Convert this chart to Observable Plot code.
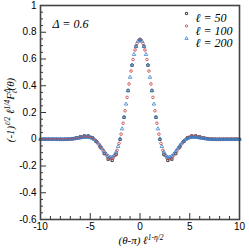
<!DOCTYPE html>
<html><head><meta charset="utf-8">
<script src="https://cdn.jsdelivr.net/npm/d3@7"></script>
<script src="https://cdn.jsdelivr.net/npm/@observablehq/plot@0.6"></script>
<style>body{margin:0;background:#fff}#chart svg{display:block}</style>
</head><body><div id="chart"></div>
<script>
// ---- data ----
const annotation = "Δ = 0.6";
const seriesNames = ["ℓ = 50", "ℓ = 100", "ℓ = 200"];
const xMajorTicks = [-10, -5, 0, 5, 10];
const xMinorTicks = [-9, -8, -7, -6, -4, -3, -2, -1, 1, 2, 3, 4, 6, 7, 8, 9];
const yMajorTicks = [-0.6, -0.4, -0.2, 0, 0.2, 0.4, 0.6, 0.8, 1];
const yMinorTicks = [-0.55, -0.5, -0.45, -0.35, -0.3, -0.25, -0.15, -0.1, -0.05, 0.05, 0.1, 0.15, 0.25, 0.3, 0.35, 0.45, 0.5, 0.55, 0.65, 0.7, 0.75, 0.85, 0.9, 0.95];

const x50 = [-10,-9.6,-9.2,-8.8,-8.4,-8,-7.6,-7.2,-6.8,-6.4,-6,-5.6,-5.2,-4.8,-4.4,-4,-3.6,-3.2,-2.8,-2.4,-2,-1.6,-1.2,-0.8,-0.4,0,0.4,0.8,1.2,1.6,2,2.4,2.8,3.2,3.6,4,4.4,4.8,5.2,5.6,6,6.4,6.8,7.2,7.6,8,8.4,8.8,9.2,9.6,10];
const y50 = [0,0,0,0,-0.001,-0.001,-0.001,0.001,0.004,0.010,0.018,0.025,0.025,0.012,-0.017,-0.058,-0.107,-0.149,-0.158,-0.113,-0.001,0.164,0.363,0.554,0.693,0.743,0.693,0.554,0.363,0.164,-0.001,-0.113,-0.158,-0.149,-0.107,-0.058,-0.017,0.012,0.025,0.025,0.018,0.010,0.004,0.001,-0.001,-0.001,-0.001,0,0,0,0];

const x100 = [-9.9,-9.7,-9.5,-9.3,-9.1,-8.9,-8.7,-8.5,-8.3,-8.1,-7.9,-7.7,-7.5,-7.3,-7.1,-6.9,-6.7,-6.5,-6.3,-6.1,-5.9,-5.7,-5.5,-5.3,-5.1,-4.9,-4.7,-4.5,-4.3,-4.1,-3.9,-3.7,-3.5,-3.3,-3.1,-2.9,-2.7,-2.5,-2.3,-2.1,-1.9,-1.7,-1.5,-1.3,-1.1,-0.9,-0.7,-0.5,-0.3,-0.1,0.1,0.3,0.5,0.7,0.9,1.1,1.3,1.5,1.7,1.9,2.1,2.3,2.5,2.7,2.9,3.1,3.3,3.5,3.7,3.9,4.1,4.3,4.5,4.7,4.9,5.1,5.3,5.5,5.7,5.9,6.1,6.3,6.5,6.7,6.9,7.1,7.3,7.5,7.7,7.9,8.1,8.3,8.5,8.7,8.9,9.1,9.3,9.5,9.7,9.9];
const y100 = [0,0,0,0,0,0,0,0,0,-0.001,-0.001,-0.001,0,0,0.001,0.002,0.004,0.006,0.009,0.012,0.015,0.018,0.020,0.020,0.018,0.014,0.005,-0.007,-0.022,-0.042,-0.064,-0.087,-0.109,-0.129,-0.142,-0.147,-0.140,-0.120,-0.083,-0.031,0.038,0.120,0.213,0.313,0.414,0.510,0.596,0.667,0.716,0.742,0.742,0.716,0.667,0.596,0.510,0.414,0.313,0.213,0.120,0.038,-0.031,-0.083,-0.120,-0.140,-0.147,-0.142,-0.129,-0.109,-0.087,-0.064,-0.042,-0.022,-0.007,0.005,0.014,0.018,0.020,0.020,0.018,0.015,0.012,0.009,0.006,0.004,0.002,0.001,0,0,-0.001,-0.001,-0.001,0,0,0,0,0,0,0,0,0];

const x200 = [-10,-9.8,-9.6,-9.4,-9.2,-9,-8.8,-8.6,-8.4,-8.2,-8,-7.8,-7.6,-7.4,-7.2,-7,-6.8,-6.6,-6.4,-6.2,-6,-5.8,-5.6,-5.4,-5.2,-5,-4.8,-4.6,-4.4,-4.2,-4,-3.8,-3.6,-3.4,-3.2,-3,-2.8,-2.6,-2.4,-2.2,-2,-1.8,-1.6,-1.4,-1.2,-1,-0.8,-0.6,-0.4,-0.2,0,0.2,0.4,0.6,0.8,1,1.2,1.4,1.6,1.8,2,2.2,2.4,2.6,2.8,3,3.2,3.4,3.6,3.8,4,4.2,4.4,4.6,4.8,5,5.2,5.4,5.6,5.8,6,6.2,6.4,6.6,6.8,7,7.2,7.4,7.6,7.8,8,8.2,8.4,8.6,8.8,9,9.2,9.4,9.6,9.8,10];
const y200 = [0,0,0,0,0,0,0,0,0,0,0,0,0,0,0,0.001,0.002,0.004,0.006,0.008,0.010,0.013,0.014,0.015,0.015,0.012,0.007,-0.001,-0.013,-0.029,-0.048,-0.069,-0.090,-0.110,-0.125,-0.134,-0.133,-0.121,-0.095,-0.054,0.003,0.078,0.166,0.263,0.364,0.463,0.555,0.634,0.695,0.733,0.746,0.733,0.695,0.634,0.555,0.463,0.364,0.263,0.166,0.078,0.003,-0.054,-0.095,-0.121,-0.133,-0.134,-0.125,-0.110,-0.090,-0.069,-0.048,-0.029,-0.013,-0.001,0.007,0.012,0.015,0.015,0.014,0.013,0.010,0.008,0.006,0.004,0.002,0.001,0,0,0,0,0,0,0,0,0,0,0,0,0,0,0];

// ---- build ----
const toRows = (xs, ys) => xs.map((x, i) => ({x, y: ys[i]}));
const d50 = toRows(x50, y50), d100 = toRows(x100, y100), d200 = toRows(x200, y200);
const colors = ["#1a1a1a", "#c83c3c", "#3a82c8"];
const symbols = ["square", "circle", "triangle"];
const fmt = d => String(Math.round(d * 10) / 10);
const serif = "'Liberation Serif','Times New Roman',serif";
const R = 1.3;

const legendMarks = seriesNames.flatMap((name, i) => [
  Plot.dot([0], {frameAnchor: "top-right", dx: -53, dy: 8 + i * 12.5, symbol: symbols[i], r: 1.2, stroke: colors[i], fill: "none", strokeWidth: 0.8}),
  Plot.text([name], {frameAnchor: "top-right", dx: -44, dy: 8 + i * 12.5, text: d => d, textAnchor: "start", fontFamily: serif, fontStyle: "italic", fontSize: 12, fill: "#000"})
]);

const plot = Plot.plot({
  width: 249, height: 249,
  marginLeft: 40, marginRight: 10, marginTop: 5, marginBottom: 30,
  style: {fontFamily: "'Liberation Sans',Arial,sans-serif", fontSize: "10px", color: "#000", background: "#fff"},
  x: {domain: [-10, 10], label: null},
  y: {domain: [-0.6, 1], label: null},
  marks: [
    Plot.axisX(xMinorTicks, {tickSize: -3, text: null, label: null, stroke: "#333"}),
    Plot.axisX(xMajorTicks, {tickSize: -6, text: null, label: null, stroke: "#333"}),
    Plot.axisX(xMajorTicks, {tickSize: 0, tickPadding: 3, tickFormat: fmt, label: null}),
    Plot.axisY(yMinorTicks, {tickSize: -3, text: null, label: null, stroke: "#333"}),
    Plot.axisY(yMajorTicks, {tickSize: -6, text: null, label: null, stroke: "#333"}),
    Plot.axisY(yMajorTicks, {tickSize: 0, tickPadding: 4, tickFormat: fmt, label: null}),
    Plot.dot(d50, {x: "x", y: "y", symbol: "square", r: R, stroke: colors[0], fill: "none", strokeWidth: 0.8}),
    Plot.dot(d100, {x: "x", y: "y", symbol: "circle", r: R, stroke: colors[1], fill: "none", strokeWidth: 0.8}),
    Plot.dot(d200, {x: "x", y: "y", symbol: "triangle", r: R, stroke: colors[2], fill: "none", strokeWidth: 0.8}),
    Plot.text([annotation], {frameAnchor: "top-left", dx: 12, dy: 14, text: d => d, textAnchor: "start", fontFamily: serif, fontStyle: "italic", fontSize: 12, fill: "#000"}),
    ...legendMarks,
    Plot.frame({stroke: "#444", strokeWidth: 1.6})
  ]
});

const svg = d3.select(plot);
// x-axis title
const xt = svg.append("text").attr("x", 141).attr("y", 244).attr("text-anchor", "middle")
  .attr("font-family", serif).attr("font-style", "italic").attr("font-size", 11).attr("fill", "#000");
xt.append("tspan").text("(θ-π) ℓ");
xt.append("tspan").attr("dy", -4).attr("font-size", 7.5).text("1-η/2");
// y-axis title
const yt = svg.append("text").attr("transform", "translate(14,110) rotate(-90)").attr("text-anchor", "middle")
  .attr("font-family", serif).attr("font-style", "italic").attr("font-size", 11).attr("fill", "#000");
yt.append("tspan").text("(-1)");
yt.append("tspan").attr("dy", -4).attr("font-size", 7.5).text("ℓ/2");
yt.append("tspan").attr("dy", 4).text(" ℓ");
yt.append("tspan").attr("dy", -4).attr("font-size", 7.5).text("1/4");
yt.append("tspan").attr("dy", 4).text("F");
yt.append("tspan").attr("dy", -4).attr("font-size", 7.5).text("Δ");
yt.append("tspan").attr("dx", -5).attr("dy", 7).attr("font-size", 7.5).text("ℓ");
yt.append("tspan").attr("dy", -3).text("(θ)");

document.getElementById("chart").appendChild(plot);
</script>
</body></html>
